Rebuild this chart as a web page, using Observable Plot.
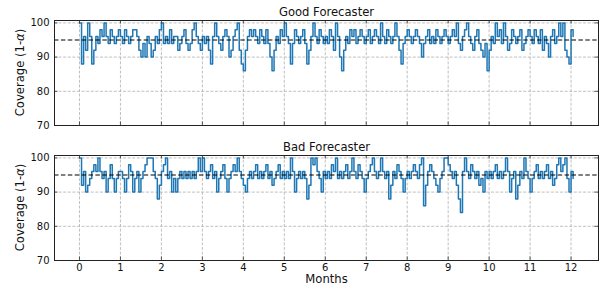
<!DOCTYPE html>
<html>
<head>
<meta charset="utf-8">
<script src="https://cdn.jsdelivr.net/npm/d3@7"></script>
<script src="https://cdn.jsdelivr.net/npm/@observablehq/plot@0.6"></script>
<style>
  body { margin: 0; background: #fff; }
  #chart { width: 608px; height: 293px; }
  #chart svg { display: block; }
</style>
</head>
<body>
<div id="chart"></div>
<script>
// ---- data ----
const monthTicks = [0, 1, 2, 3, 4, 5, 6, 7, 8, 9, 10, 11, 12];
const coverageTicks = [70, 80, 90, 100];
const targetCoverage = [95];
const sampleStep = 0.05; // months between samples
const panelTitles = ["Good Forecaster", "Bad Forecaster"];

const goodCoverage = [
  100, 88, 96, 92, 100, 96, 88, 92, 96, 94, 98, 96, 100, 96, 94, 98, 96, 94, 96, 98,
  96, 94, 98, 96, 94, 96, 98, 98, 96, 92, 90, 94, 90, 96, 94, 90, 92, 96, 94, 98,
  100, 94, 96, 94, 98, 94, 96, 96, 92, 94, 96, 98, 94, 92, 94, 98, 100, 96, 94, 92,
  96, 94, 96, 92, 88, 96, 100, 96, 94, 92, 96, 98, 96, 90, 92, 96, 98, 100, 92, 88,
  86, 92, 96, 98, 96, 98, 96, 94, 98, 96, 94, 98, 94, 90, 86, 92, 96, 94, 98, 96,
  100, 96, 94, 88, 94, 98, 96, 94, 96, 98, 94, 88, 92, 96, 100, 96, 94, 98, 96, 94,
  96, 94, 98, 96, 92, 100, 96, 90, 86, 92, 96, 94, 98, 96, 98, 94, 96, 98, 96, 94,
  96, 98, 94, 96, 98, 96, 94, 100, 96, 94, 98, 96, 94, 96, 100, 96, 92, 88, 94, 96,
  98, 96, 94, 96, 98, 96, 94, 90, 94, 96, 98, 94, 96, 94, 98, 96, 94, 96, 98, 96,
  94, 96, 98, 96, 100, 94, 92, 96, 98, 100, 96, 94, 92, 96, 98, 94, 92, 90, 94, 86,
  92, 96, 94, 100, 96, 98, 94, 100, 96, 92, 94, 98, 96, 94, 96, 98, 92, 94, 96, 98,
  96, 94, 98, 96, 94, 98, 92, 96, 94, 90, 96, 98, 94, 96, 100, 96, 100, 92, 90, 88,
  98, 96
];

const badCoverage = [
  100, 92, 96, 90, 92, 94, 96, 98, 96, 100, 96, 94, 96, 90, 94, 98, 94, 90, 94, 96,
  96, 94, 90, 94, 98, 96, 90, 94, 96, 90, 94, 96, 98, 100, 100, 100, 96, 94, 88, 92,
  96, 98, 100, 94, 96, 90, 94, 90, 94, 96, 94, 96, 94, 96, 94, 96, 94, 96, 100, 96,
  100, 96, 94, 96, 98, 94, 96, 90, 94, 96, 98, 94, 90, 94, 96, 98, 96, 100, 96, 94,
  92, 90, 94, 96, 94, 96, 98, 94, 96, 94, 96, 98, 94, 96, 92, 94, 96, 98, 94, 96,
  94, 96, 94, 100, 96, 90, 94, 96, 94, 96, 94, 88, 92, 100, 98, 100, 96, 94, 90, 96,
  94, 96, 94, 98, 96, 100, 94, 96, 94, 96, 98, 94, 96, 100, 96, 94, 98, 96, 94, 90,
  94, 96, 98, 100, 96, 94, 96, 100, 96, 94, 96, 88, 92, 96, 94, 98, 96, 94, 90, 94,
  96, 94, 96, 98, 96, 94, 98, 100, 86, 92, 96, 98, 96, 94, 92, 90, 94, 96, 100, 100,
  98, 96, 94, 96, 92, 88, 84, 96, 100, 96, 94, 98, 96, 94, 96, 92, 94, 90, 96, 94,
  96, 94, 96, 98, 94, 96, 94, 96, 100, 96, 90, 94, 96, 88, 92, 96, 94, 100, 96, 94,
  90, 94, 96, 98, 94, 96, 94, 96, 98, 94, 96, 92, 94, 98, 100, 96, 98, 100, 94, 90,
  96, 94
];

// ---- drawing ----
const FONT = "DejaVu Sans";
const W = 608, ML = 54, MR = 10;
const X_DOMAIN = [-0.61, 12.67];
const Y_DOMAIN = [70, 100.7];
const GRID = {stroke: "#b0b0b0", strokeOpacity: 1, strokeWidth: 0.8, strokeDasharray: "3,1.6"};
const FRAME_H = 105, FRAME_W = W - ML - MR, TICK = 3.5;

function panel(values, title, {height, marginTop, marginBottom, titleDy, showX}) {
  const rows = values.map((v, i) => ({month: i * sampleStep, coverage: v}));
  const marks = [
    Plot.gridX(monthTicks, GRID),
    Plot.gridY(coverageTicks.filter(d => d > 70), GRID),
    Plot.line(rows, {x: "month", y: "coverage", curve: "step-after",
      stroke: "#1f77b4", strokeWidth: 1.5}),
    Plot.ruleY(targetCoverage, {stroke: "#000", strokeWidth: 1.2, strokeDasharray: "4.5,2.4"}),
    // inward ticks on all four sides
    Plot.tickX(monthTicks, {stroke: "#333", strokeWidth: 0.8, insetTop: FRAME_H - TICK}),
    Plot.tickX(monthTicks, {stroke: "#333", strokeWidth: 0.8, insetBottom: FRAME_H - TICK}),
    Plot.tickY(coverageTicks, {stroke: "#333", strokeWidth: 0.8, insetRight: FRAME_W - TICK}),
    Plot.tickY(coverageTicks, {stroke: "#333", strokeWidth: 0.8, insetLeft: FRAME_W - TICK}),
    Plot.frame({stroke: "#222", strokeWidth: 1}),
    Plot.axisY(coverageTicks, {tickSize: 0, tickPadding: 5, fontSize: 10, label: null}),
    Plot.text([title], {frameAnchor: "top", lineAnchor: "bottom", dy: titleDy, fontSize: 11.6, fill: "#111"})
  ];
  if (showX) {
    marks.push(Plot.axisX(monthTicks, {tickSize: 0, tickPadding: 3, fontSize: 10, label: null}));
    marks.push(Plot.text(["Months"], {frameAnchor: "bottom", dy: 22, fontSize: 11.6, fill: "#111"}));
  }
  const svg = Plot.plot({
    width: W, height, marginLeft: ML, marginRight: MR, marginTop, marginBottom,
    style: {fontFamily: FONT, fontSize: "10px", color: "#111", background: "#fff", overflow: "visible"},
    x: {domain: X_DOMAIN, axis: null},
    y: {domain: Y_DOMAIN, axis: null},
    marks
  });
  const cy = marginTop + FRAME_H / 2;
  const t = d3.select(svg).append("text")
    .attr("transform", `translate(20,${cy}) rotate(-90)`)
    .attr("text-anchor", "middle").attr("dominant-baseline", "central")
    .attr("font-size", 11.6).attr("fill", "#111").attr("font-family", FONT);
  t.append("tspan").text("Coverage (1-");
  t.append("tspan").attr("font-style", "italic").text("α");
  t.append("tspan").text(")");
  return svg;
}

const root = document.getElementById("chart");
root.append(panel(goodCoverage, panelTitles[0], {height: 135, marginTop: 20, marginBottom: 10, titleDy: -5, showX: false}));
root.append(panel(badCoverage, panelTitles[1], {height: 158, marginTop: 20, marginBottom: 33, titleDy: -5, showX: true}));
</script>
</body>
</html>
